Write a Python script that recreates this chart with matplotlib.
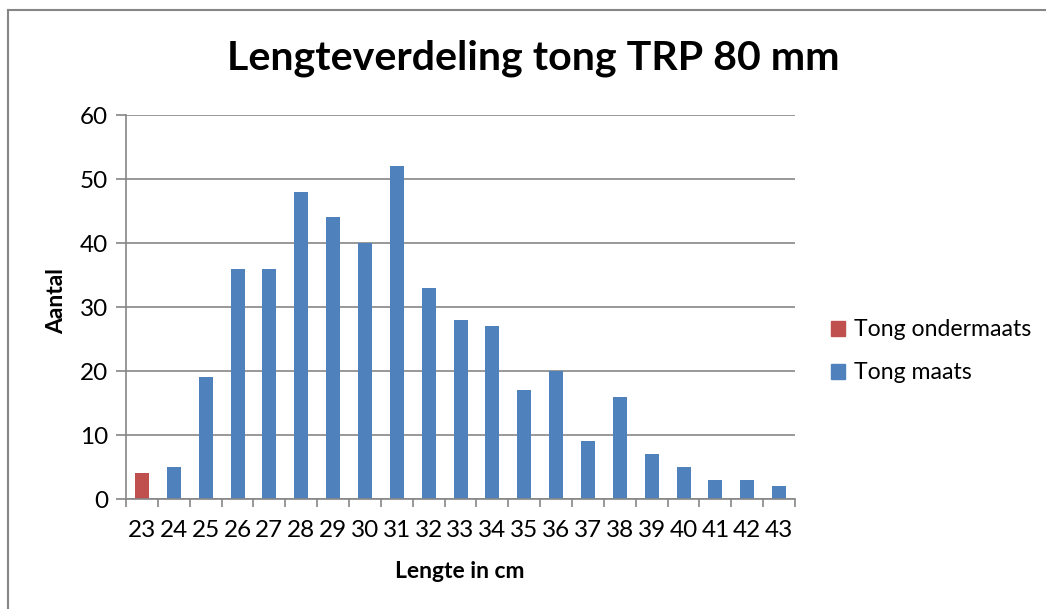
import numpy as np
import matplotlib
matplotlib.use("Agg")
import matplotlib.pyplot as plt
from matplotlib.patches import Patch
from matplotlib.lines import Line2D

plt.rcParams['font.family'] = ['Lato', 'DejaVu Sans']

# data
lengtes = list(range(23, 44))
ondermaats = [4] + [0] * 20
maats = [0, 5, 19, 36, 36, 48, 44, 40, 52, 33, 28, 27, 17, 20, 9, 16, 7, 5, 3, 3, 2]

blauw = '#4F81BD'
rood = '#C0504D'
grijs = '#868686'

fig = plt.figure(figsize=(10.46, 6.09), dpi=100)
ax = fig.add_axes([0.1205, 0.1806, 0.6396, 0.6305])

x = np.arange(len(lengtes))
ax.bar(x, ondermaats, width=0.44, color=rood, zorder=3, label='Tong ondermaats')
ax.bar(x, maats, width=0.44, color=blauw, zorder=3, label='Tong maats')

ax.set_xlim(-0.5, len(lengtes) - 0.5)
ax.set_ylim(0, 60)
ax.set_yticks(range(0, 61, 10))
ax.grid(axis='y', color=grijs, linewidth=1.2, zorder=0)

# tick marks tussen de categorieen, labels in het midden
ax.set_xticks(np.arange(-0.5, len(lengtes), 1.0))
ax.set_xticklabels([])
ax.set_xticks(x, minor=True)
ax.set_xticklabels([str(l) for l in lengtes], minor=True)
ax.tick_params(axis='x', which='major', length=6, width=1.2, color=grijs, direction='out')
ax.tick_params(axis='x', which='minor', length=0, pad=15, labelsize=17.5)
ax.tick_params(axis='y', length=7, width=1.2, color=grijs, labelsize=17.5, pad=6)

for s in ['top', 'right']:
    ax.spines[s].set_visible(False)
for s in ['left', 'bottom']:
    ax.spines[s].set_color(grijs)
    ax.spines[s].set_linewidth(1.2)
    ax.spines[s].set_zorder(4)

fig.text(0.51, 0.905, 'Lengteverdeling tong TRP 80 mm', ha='center', va='center',
         fontsize=29.6, fontweight='bold')
fig.text(0.054, 0.505, 'Aantal', rotation=90, ha='center', va='center',
         fontsize=16.5, fontweight='bold')
fig.text(0.44, 0.061, 'Lengte in cm', ha='center', va='center',
         fontsize=16.5, fontweight='bold')

handles = [Patch(color=rood), Patch(color=blauw)]
fig.legend(handles, ['Tong ondermaats', 'Tong maats'], loc='center left',
           bbox_to_anchor=(0.775, 0.423), frameon=False, fontsize=16.6,
           handlelength=0.6, handleheight=0.6, handletextpad=0.4, labelspacing=0.95)

# kader
fig.add_artist(Line2D([0.008, 0.008], [0, 0.984], color=grijs, linewidth=1.5))
fig.add_artist(Line2D([0.008, 1.0], [0.984, 0.984], color=grijs, linewidth=1.5))

fig.savefig('out.png', dpi=100)
